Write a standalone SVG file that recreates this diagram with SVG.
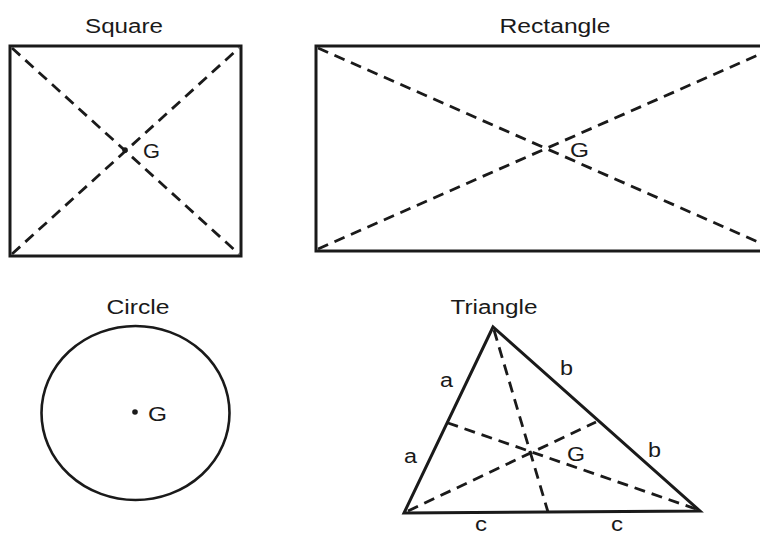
<svg xmlns="http://www.w3.org/2000/svg" width="760" height="535" viewBox="0 0 760 535">
  <style>
    .solid { fill: none; stroke: #1a1a1a; stroke-width: 3; }
    .thin { fill: none; stroke: #1a1a1a; stroke-width: 2.6; }
    .dash { fill: none; stroke: #1a1a1a; stroke-width: 2.8; stroke-dasharray: 11 7; }
    .dot { fill: #1a1a1a; }
    text { font-family: "Liberation Sans", Arial, Helvetica, sans-serif; font-size: 20px; fill: #1a1a1a; }
    .title { text-anchor: middle; }
  </style>
  <rect width="760" height="535" fill="#ffffff"/>

  <g id="square">
    <text class="title" x="124" y="33" textLength="78" lengthAdjust="spacingAndGlyphs">Square</text>
    <rect class="solid" x="10" y="46" width="231" height="210"/>
    <line class="dash" x1="12" y1="48" x2="239" y2="254"/>
    <line class="dash" x1="12" y1="254" x2="239" y2="48"/>
    <circle class="dot" cx="125" cy="150" r="2.8"/>
    <text x="143" y="158" textLength="17" lengthAdjust="spacingAndGlyphs">G</text>
  </g>

  <g id="rectangle">
    <text class="title" x="555" y="33" textLength="111" lengthAdjust="spacingAndGlyphs">Rectangle</text>
    <rect class="solid" x="316" y="46" width="460" height="205"/>
    <line class="dash" x1="318" y1="48" x2="774" y2="249"/>
    <line class="dash" x1="318" y1="249" x2="774" y2="48"/>
    <text x="570" y="157" textLength="19" lengthAdjust="spacingAndGlyphs">G</text>
  </g>

  <g id="circle">
    <text class="title" x="138" y="314" textLength="63" lengthAdjust="spacingAndGlyphs">Circle</text>
    <ellipse class="thin" cx="135.5" cy="413" rx="94" ry="87"/>
    <circle class="dot" cx="135" cy="412" r="2.8"/>
    <text x="148" y="421" textLength="19" lengthAdjust="spacingAndGlyphs">G</text>
  </g>

  <g id="triangle">
    <text class="title" x="494" y="314" textLength="87" lengthAdjust="spacingAndGlyphs">Triangle</text>
    <polygon class="solid" points="493,327 404,513 700,511" stroke-linejoin="miter"/>
    <text x="440" y="387" textLength="13" lengthAdjust="spacingAndGlyphs">a</text>
    <text x="404" y="463" textLength="13" lengthAdjust="spacingAndGlyphs">a</text>
    <text x="560" y="375" textLength="13" lengthAdjust="spacingAndGlyphs">b</text>
    <text x="648" y="457" textLength="13" lengthAdjust="spacingAndGlyphs">b</text>
    <text x="475" y="531" textLength="12" lengthAdjust="spacingAndGlyphs">c</text>
    <text x="611" y="531" textLength="12" lengthAdjust="spacingAndGlyphs">c</text>
    <text x="567" y="461" textLength="18" lengthAdjust="spacingAndGlyphs">G</text>
  </g>

  <g id="connectors">
    <line class="dash" x1="494" y1="330" x2="548" y2="512"/>
    <line class="dash" x1="408" y1="511" x2="596" y2="422"/>
    <line class="dash" x1="696" y1="509" x2="448" y2="423"/>
  </g>
</svg>
